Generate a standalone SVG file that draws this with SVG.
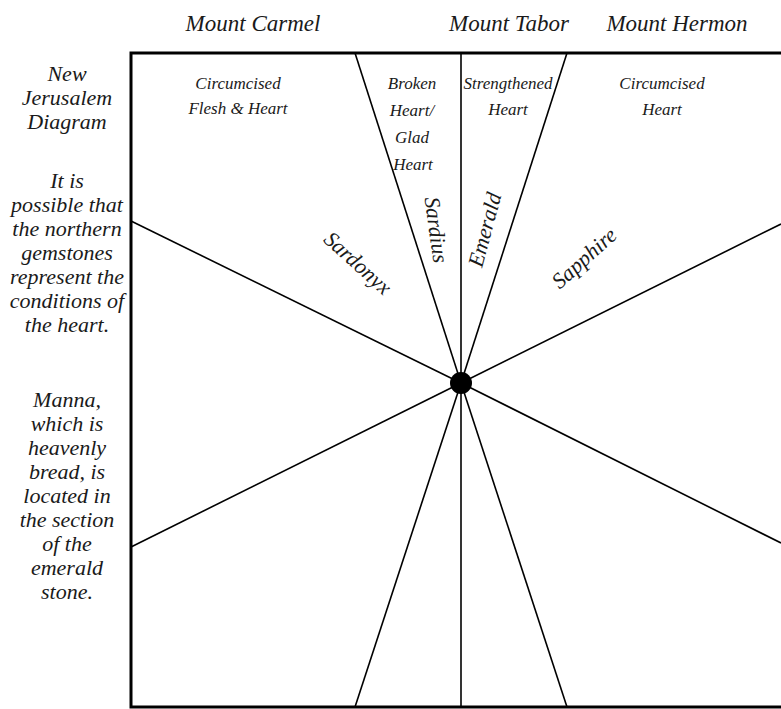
<svg xmlns="http://www.w3.org/2000/svg" width="781" height="709" viewBox="0 0 781 709">
<style>
text{font-family:"Liberation Serif","Times New Roman",serif;font-style:italic;fill:#1a1a1a;text-anchor:middle}
.top{font-size:23px}
.side{font-size:22px}
.in{font-size:17px}
.gem{font-size:22px}
.ln{stroke:#000;stroke-width:1.6;fill:none}
</style>
<rect width="781" height="709" fill="#fff"/>
<g id="frame">
<rect x="131" y="53" width="680" height="654" fill="none" stroke="#000" stroke-width="3"/>
</g>
<g id="connectors">
<line class="ln" x1="461" y1="53" x2="461" y2="707"/>
<line class="ln" x1="355" y1="53" x2="461" y2="383"/>
<line class="ln" x1="567" y1="53" x2="461" y2="383"/>
<line class="ln" x1="461" y1="383" x2="355" y2="707"/>
<line class="ln" x1="461" y1="383" x2="567" y2="707"/>
<line class="ln" x1="131" y1="221" x2="461" y2="383"/>
<line class="ln" x1="131" y1="547" x2="461" y2="383"/>
<line class="ln" x1="461" y1="383" x2="781" y2="224"/>
<line class="ln" x1="461" y1="383" x2="781" y2="543"/>
</g>
<g id="center"><circle cx="461" cy="383" r="11" fill="#000"/></g>
<g id="mountains">
<text class="top" x="253" y="31">Mount Carmel</text>
<text class="top" x="509" y="31">Mount Tabor</text>
<text class="top" x="677" y="31">Mount Hermon</text>
</g>
<g id="sidebar">
<text class="side" x="67" y="81">New</text>
<text class="side" x="67" y="105">Jerusalem</text>
<text class="side" x="67" y="129">Diagram</text>
<text class="side" x="67" y="188">It is</text>
<text class="side" x="67" y="212">possible that</text>
<text class="side" x="67" y="236">the northern</text>
<text class="side" x="67" y="260">gemstones</text>
<text class="side" x="67" y="284">represent the</text>
<text class="side" x="67" y="308">conditions of</text>
<text class="side" x="67" y="332">the heart.</text>
<text class="side" x="67" y="407">Manna,</text>
<text class="side" x="67" y="431">which is</text>
<text class="side" x="67" y="455">heavenly</text>
<text class="side" x="67" y="479">bread, is</text>
<text class="side" x="67" y="503">located in</text>
<text class="side" x="67" y="527">the section</text>
<text class="side" x="67" y="551">of the</text>
<text class="side" x="67" y="575">emerald</text>
<text class="side" x="67" y="599">stone.</text>
</g>
<g id="carmel-heart">
<text class="in" x="238" y="89">Circumcised</text>
<text class="in" x="238" y="114">Flesh &amp; Heart</text>
</g>
<g id="tabor-broken">
<text class="in" x="412" y="89">Broken</text>
<text class="in" x="412" y="116">Heart/</text>
<text class="in" x="412" y="143">Glad</text>
<text class="in" x="413" y="170">Heart</text>
</g>
<g id="tabor-strengthened">
<text class="in" x="508" y="89">Strengthened</text>
<text class="in" x="508" y="115">Heart</text>
</g>
<g id="hermon-heart">
<text class="in" x="662" y="89">Circumcised</text>
<text class="in" x="662" y="115">Heart</text>
</g>
<g id="gems">
<text class="gem" transform="translate(357,264) rotate(42)" x="0" y="6">Sardonyx</text>
<text class="gem" transform="translate(435,230) rotate(82)" x="0" y="6">Sardius</text>
<text class="gem" transform="translate(486,230) rotate(-75)" x="0" y="6">Emerald</text>
<text class="gem" transform="translate(585,259) rotate(-42)" x="0" y="6">Sapphire</text>
</g>
</svg>
